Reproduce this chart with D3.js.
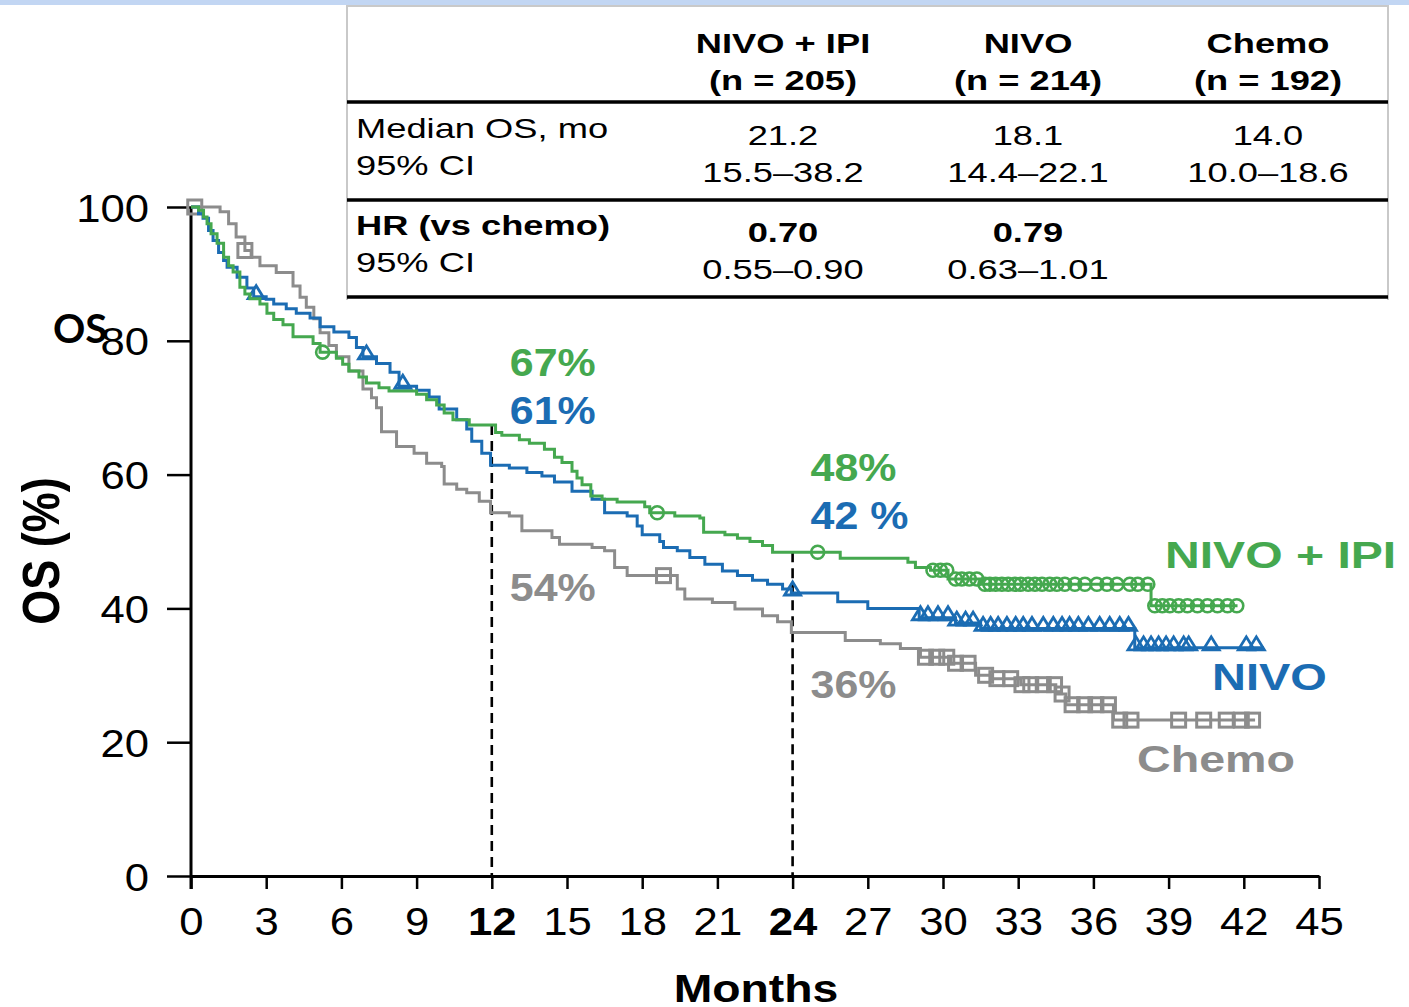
<!DOCTYPE html>
<html>
<head>
<meta charset="utf-8">
<script src="https://cdn.jsdelivr.net/npm/d3@7"></script>
<style>
  body { margin: 0; background: #fff; }
  svg { display: block; }
</style>
</head>
<body>
<svg id="chart" width="1409" height="1007"></svg>
<script>
// ---------- data ----------
const monthTicks = d3.range(0, 46, 3);
const boldMonths = [12, 24];
const pctTicks = [0, 20, 40, 60, 80, 100];

const armNames = ["NIVO + IPI", "NIVO", "Chemo"];
const armN = ["(n = 205)", "(n = 214)", "(n = 192)"];
const medianOS = ["21.2", "18.1", "14.0"];
const medianCI = ["15.5–38.2", "14.4–22.1", "10.0–18.6"];
const hrVsChemo = ["0.70", "0.79", ""];
const hrCI = ["0.55–0.90", "0.63–1.01", ""];

const landmarkMonths = [12, 24];
const landmarkNivoIpi = ["67%", "48%"];
const landmarkNivo = ["61%", "42 %"];
const landmarkChemo = ["54%", "36%"];

// Kaplan–Meier steps: [month, OS %] — value holds from that month on
const nivoIpiSteps = [
  [0,100],[0.3,99.5],[0.5,98.5],[0.64,97.5],[0.8,96],[1.04,94.6],[1.3,92.5],[1.5,91.2],
  [1.68,90.3],[1.95,88],[2.15,87],[2.35,86.3],[2.75,85.5],[3.03,84.1],[3.3,83.2],[3.67,82.4],
  [4.07,80.6],[4.87,79.6],[5.15,78.3],[5.8,77.4],[6.05,76.5],[6.3,75.5],[6.7,74.6],[7.0,73.7],
  [7.5,73],[7.9,72.5],[9.0,72.0],[9.4,71.2],[9.8,70.4],[10.1,69.2],[10.45,68.2],[11.1,67.4],
  [12.15,66.3],[12.4,65.9],[13.1,65.2],[13.5,64.7],[14.1,63.8],[14.5,62.6],[14.8,61.8],
  [15.2,60.5],[15.4,59.5],[15.6,58.5],[15.95,56.8],[16.4,56.3],[17,55.9],[18.1,55.2],
  [18.3,54.3],[19.3,53.8],[20.3,53.5],[20.45,51.4],[21.3,51],[21.8,50.5],[22.3,50],
  [22.8,49.4],[23.2,48.4],[25.9,47.5],[28.6,46.9],[28.9,46.1],[29.5,45.7],[30.2,44.4],
  [31.5,43.6],[38.3,40.4],[41.75,40.4]
];
const nivoSteps = [
  [0,100],[0.3,99],[0.48,98.3],[0.7,96.5],[0.88,95],[1.1,93.2],[1.3,92],[1.44,91],
  [1.84,89.5],[2.23,87.9],[2.5,86.6],[3.0,86.2],[3.3,85.5],[3.8,84.8],[4.2,84.1],[4.75,83.4],
  [5.15,82.1],[5.7,81.3],[6.3,80.5],[6.6,79],[6.86,77.6],[7.4,76.6],[7.94,75.3],[8.3,73.2],
  [9.0,72.6],[9.5,71.6],[9.9,69.8],[10.6,68.2],[11.0,66.8],[11.2,65],[11.6,63.2],[11.95,61.4],
  [12.7,61.0],[13.4,60.3],[14.0,59.8],[14.5,58.9],[15.2,57.5],[16.0,56.3],[16.5,54.3],
  [17.4,53.8],[17.8,52.3],[18.0,51.0],[18.7,50.0],[18.85,49.1],[19.4,48.6],[19.9,47.6],
  [20.5,46.6],[21.2,45.6],[21.8,44.9],[22.4,44.2],[23.0,43.6],[23.6,42.9],[23.95,42.3],
  [25.8,41.0],[27,40.0],[29.05,38.6],[30.5,37.8],[31.5,37.0],[37.65,34.1],[42.8,34.1]
];
const chemoSteps = [
  [0,100],[1.16,99.3],[1.5,97.5],[1.8,95.5],[2.15,93.5],[2.4,92.5],[2.75,91.2],[3.4,90.2],
  [4.07,88.2],[4.35,86.5],[4.6,85],[4.9,83.3],[5.15,81.2],[5.5,79.3],[5.8,77.6],[6.3,75.5],
  [6.86,72.8],[7.2,71.5],[7.4,70],[7.6,66.4],[8.2,64.2],[8.9,63.2],[9.4,61.7],[10.0,61.2],
  [10.1,58.6],[10.6,57.8],[11,57.3],[11.5,56],[11.95,54.3],[12.7,53.8],[13.2,51.6],
  [14.4,50.6],[14.7,49.6],[16,49.1],[16.5,48.6],[16.9,46.1],[17.4,44.9],[19.4,42.9],
  [19.7,41.4],[20.8,40.9],[21.7,39.9],[22.8,38.9],[23.4,38.0],[23.95,36.4],[26.1,35.2],
  [27.5,34.7],[28.3,34.0],[29.1,32.7],[30.3,31.8],[31.3,30.0],[31.9,29.5],[33.1,28.6],
  [34.5,27.2],[34.9,25.6],[36.8,23.3],[42.45,23.3]
];

// censored observations (months)
const nivoIpiCensor = [
  5.25, 18.6, 25.0, 29.6, 29.9, 30.15, 30.5, 30.75, 31.05, 31.35, 31.67, 31.87, 32.1,
  32.35, 32.6, 32.87, 33.1, 33.4, 33.67, 33.95, 34.26, 34.54, 34.86, 35.26, 35.66, 36.14,
  36.54, 36.94, 37.45, 37.77, 38.17, 38.45, 38.75, 39.05, 39.4, 39.75, 40.15, 40.55,
  40.95, 41.35, 41.72
];
const nivoCensor = [
  2.6, 7.0, 8.45, 24.0, 29.1, 29.4, 29.8, 30.2, 30.55, 30.9, 31.2, 31.6, 31.9, 32.2,
  32.55, 32.9, 33.2, 33.55, 34.0, 34.4, 34.75, 35.05, 35.4, 35.8, 36.25, 36.65, 37.05,
  37.4, 37.7, 38.0, 38.3, 38.6, 38.9, 39.2, 39.6, 39.8, 40.7, 42.1, 42.5
];
const chemoCensor = [
  0.15, 2.15, 18.85, 29.3, 29.75, 30.15, 30.5, 31.0, 31.7, 32.15, 32.7, 33.15, 33.5,
  34.0, 34.45, 34.75, 35.15, 35.65, 36.1, 36.6, 37.05, 37.5, 39.4, 40.4, 41.3, 41.9, 42.35
];

// ---------- setup ----------
const FONT = "'Liberation Sans', Arial, Helvetica, sans-serif";
const GREEN = "#45a84f", BLUE = "#1b6cb3", GRAY = "#8c8c8c";

const svg = d3.select("#chart");
const x = d3.scaleLinear().domain([0, 45]).range([191, 1319]);
const y = d3.scaleLinear().domain([0, 100]).range([876, 207]);

// text with a horizontal stretch
function stext(g, px, py, str, o) {
  return g.append("text")
    .attr("transform", `translate(${px},${py}) scale(${o.sx || 1},1)` + (o.rotate ? ` rotate(${o.rotate})` : ""))
    .attr("text-anchor", o.anchor || "start")
    .attr("font-family", o.family || FONT)
    .attr("font-size", o.size)
    .attr("font-weight", o.weight || "normal")
    .attr("fill", o.fill || "#000")
    .text(str);
}

function valueAt(steps, m) {
  let v = steps[0][1];
  for (const s of steps) { if (s[0] <= m) v = s[1]; else break; }
  return v;
}

// top band
svg.append("rect").attr("x", 0).attr("y", 0).attr("width", 1409).attr("height", 5).attr("fill", "#c2d6f3");

// ---------- summary table ----------
const tbl = svg.append("g");
const tL = 347, tR = 1388, colX = [783, 1028, 1268];
tbl.append("path").attr("d", `M${tL},300 V6 H${tR} V300`).attr("fill", "none")
  .attr("stroke", "#c9c9c9").attr("stroke-width", 2);
[102, 200, 297].forEach(ly => tbl.append("line").attr("x1", tL).attr("x2", tR)
  .attr("y1", ly).attr("y2", ly).attr("stroke", "#000").attr("stroke-width", 3.5));

const TS = 27.5, TSX = 1.32;
armNames.forEach((d, i) => stext(tbl, colX[i], 53, d, { size: TS, sx: TSX, weight: "bold", anchor: "middle" }));
armN.forEach((d, i) => stext(tbl, colX[i], 90, d, { size: TS, sx: TSX, weight: "bold", anchor: "middle" }));
stext(tbl, 356, 138, "Median OS, mo", { size: TS, sx: TSX });
stext(tbl, 356, 175, "95% CI", { size: TS, sx: TSX });
medianOS.forEach((d, i) => stext(tbl, colX[i], 145, d, { size: TS, sx: TSX, anchor: "middle" }));
medianCI.forEach((d, i) => stext(tbl, colX[i], 182, d, { size: TS, sx: TSX, anchor: "middle" }));
stext(tbl, 356, 235, "HR (vs chemo)", { size: TS, sx: TSX, weight: "bold" });
stext(tbl, 356, 272, "95% CI", { size: TS, sx: TSX });
hrVsChemo.forEach((d, i) => stext(tbl, colX[i], 242, d, { size: TS, sx: TSX, weight: "bold", anchor: "middle" }));
hrCI.forEach((d, i) => stext(tbl, colX[i], 279, d, { size: TS, sx: TSX, anchor: "middle" }));

// ---------- axes ----------
const TICK_SX = 1.12;
const xAxis = svg.append("g").attr("transform", `translate(0,${y(0)})`)
  .call(d3.axisBottom(x).tickValues(monthTicks).tickSize(13).tickSizeOuter(0).tickPadding(18));
xAxis.select(".domain").attr("stroke-width", 3);
xAxis.selectAll(".tick line").attr("stroke-width", 2.5);
xAxis.selectAll(".tick text")
  .attr("font-family", FONT).attr("font-size", 39).attr("fill", "#000")
  .attr("font-weight", d => boldMonths.includes(d) ? "bold" : "normal")
  .attr("transform", `scale(${TICK_SX},1)`);

const yAxis = svg.append("g").attr("transform", `translate(${x(0)},0)`)
  .call(d3.axisLeft(y).tickValues(pctTicks).tickSize(24).tickSizeOuter(0).tickPadding(18));
yAxis.select(".domain").attr("d", `M0,${y(0) + 13}V${y(100)}`).attr("stroke-width", 3);
yAxis.selectAll(".tick line").attr("stroke-width", 2.5);
yAxis.selectAll(".tick text")
  .attr("font-family", FONT).attr("font-size", 39).attr("fill", "#000")
  .attr("x", -42 / TICK_SX).attr("dy", "0.36em")
  .attr("transform", `scale(${TICK_SX},1)`);

stext(svg, 59, 551, "OS (%)", { size: 45, sx: 1.14, weight: "bold", anchor: "middle", rotate: -90 });
stext(svg, 756, 1002, "Months", { size: 38, sx: 1.22, weight: "bold", anchor: "middle" });
stext(svg, 53, 343, "OS", { size: 40, weight: "bold", family: "Lato, 'Open Sans', sans-serif" });

// ---------- landmark reference lines ----------
const refG = svg.append("g");
landmarkMonths.forEach(m => {
  refG.append("line").attr("x1", x(m)).attr("x2", x(m))
    .attr("y1", y(valueAt(nivoIpiSteps, m))).attr("y2", y(0))
    .attr("stroke", "#000").attr("stroke-width", 2.6).attr("stroke-dasharray", "10,6");
});

// ---------- survival curves ----------
const line = d3.line().x(d => x(d[0])).y(d => y(d[1])).curve(d3.curveStepAfter);
const arms = [
  { steps: chemoSteps, censor: chemoCensor, color: GRAY, mark: "square" },
  { steps: nivoSteps, censor: nivoCensor, color: BLUE, mark: "triangle" },
  { steps: nivoIpiSteps, censor: nivoIpiCensor, color: GREEN, mark: "circle" }
];
arms.forEach(a => {
  const g = svg.append("g");
  g.append("path").datum(a.steps).attr("d", line)
    .attr("fill", "none").attr("stroke", a.color).attr("stroke-width", 3);
  const pts = a.censor.map(m => [m, valueAt(a.steps, m)]);
  if (a.mark === "circle") {
    g.selectAll("circle").data(pts).join("circle")
      .attr("cx", d => x(d[0])).attr("cy", d => y(d[1])).attr("r", 6.5)
      .attr("fill", "none").attr("stroke", a.color).attr("stroke-width", 2.6);
  } else if (a.mark === "triangle") {
    g.selectAll("path.tri").data(pts).join("path").attr("class", "tri")
      .attr("d", d => `M${x(d[0]) - 8},${y(d[1]) + 2}L${x(d[0]) + 8},${y(d[1]) + 2}L${x(d[0])},${y(d[1]) - 11}Z`)
      .attr("fill", "none").attr("stroke", a.color).attr("stroke-width", 2.8).attr("stroke-linejoin", "miter");
  } else {
    g.selectAll("rect").data(pts).join("rect")
      .attr("x", d => x(d[0]) - 7).attr("y", d => y(d[1]) - 7)
      .attr("width", 14).attr("height", 14)
      .attr("fill", "none").attr("stroke", a.color).attr("stroke-width", 3);
  }
});

// ---------- landmark labels ----------
const LSX = 1.1, LS = 39;
const lblRows = [
  { vals: landmarkNivoIpi, color: GREEN, base: [376, 481] },
  { vals: landmarkNivo, color: BLUE, base: [424, 529] },
  { vals: landmarkChemo, color: GRAY, base: [601, 698] }
];
lblRows.forEach(r => r.vals.forEach((v, i) =>
  stext(svg, x(landmarkMonths[i]) + 18, r.base[i], v, { size: LS, sx: LSX, weight: "bold", fill: r.color })));

// ---------- arm labels ----------
stext(svg, 1165, 568, armNames[0], { size: 37, sx: 1.3, weight: "bold", fill: GREEN });
stext(svg, 1212, 690, armNames[1], { size: 37, sx: 1.27, weight: "bold", fill: BLUE });
stext(svg, 1137, 772, armNames[2], { size: 37, sx: 1.26, weight: "bold", fill: GRAY });
</script>
</body>
</html>
